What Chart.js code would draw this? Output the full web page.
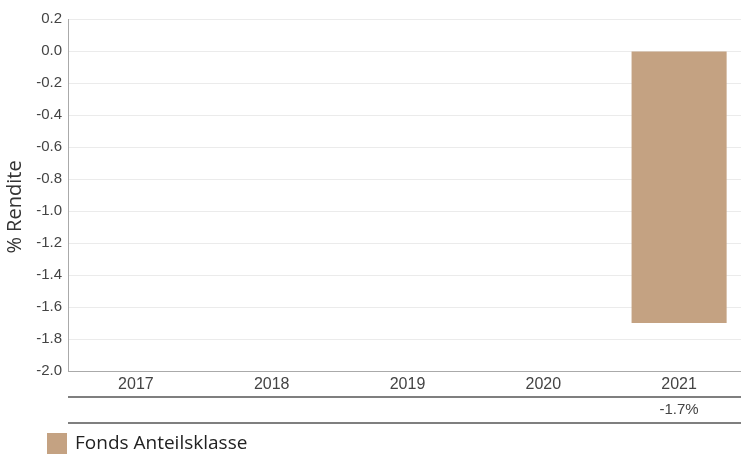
<!DOCTYPE html>
<html>
<head>
<meta charset="utf-8">
<script src="https://cdn.jsdelivr.net/npm/chart.js@4/dist/chart.umd.min.js"></script>
<style>
  html, body { margin: 0; padding: 0; background: #fff; overflow: hidden; }
  #wrap { width: 747px; height: 455px; position: relative; }
</style>
</head>
<body>
<div id="wrap"><canvas id="chart"></canvas></div>
<script>
// data
const years = ['2017', '2018', '2019', '2020', '2021'];
const fundLabel = 'Fonds Anteilsklasse';
const fundReturns = [null, null, null, null, -1.7];
const yMin = -2.0, yMax = 0.2, yStep = 0.2;
const yTitle = '% Rendite';

const fundColor = '#c4a282';
const arial = '"Liberation Sans", Arial, sans-serif';
const segoe = '"Open Sans", "Noto Sans", sans-serif';

// axis title, table row and legend drawn around the plot
const tableAndLegend = {
  id: 'tableAndLegend',
  afterDraw(chart) {
    const { ctx, chartArea, scales } = chart;
    const x = scales.x;
    const right = Math.min(chartArea.right, 741);
    ctx.save();
    // y title, sits a bit lower than the plot centre in the original
    ctx.save();
    ctx.translate(15, 207);
    ctx.rotate(-Math.PI / 2);
    ctx.fillStyle = '#333';
    ctx.font = '20px ' + segoe;
    ctx.textAlign = 'center';
    ctx.textBaseline = 'middle';
    ctx.fillText(yTitle, 0, 0);
    ctx.restore();

    ctx.strokeStyle = '#555';
    ctx.lineWidth = 1.5;
    [397, 423].forEach(y => {
      ctx.beginPath();
      ctx.moveTo(chartArea.left, y);
      ctx.lineTo(right, y);
      ctx.stroke();
    });
    ctx.fillStyle = '#444';
    ctx.font = '15px ' + arial;
    ctx.textAlign = 'center';
    ctx.textBaseline = 'middle';
    fundReturns.forEach((v, i) => {
      if (v === null) return;
      ctx.fillText(v.toFixed(1) + '%', x.getPixelForValue(i), 410);
    });
    // legend
    ctx.fillStyle = fundColor;
    ctx.fillRect(47, 433, 20, 21);
    ctx.fillStyle = '#222';
    ctx.font = '19px ' + segoe;
    ctx.textAlign = 'left';
    ctx.textBaseline = 'middle';
    ctx.fillText(fundLabel, 75, 444);
    ctx.restore();
  }
};

new Chart(document.getElementById('chart'), {
  type: 'bar',
  data: {
    labels: years,
    datasets: [{
      label: fundLabel,
      data: fundReturns,
      backgroundColor: fundColor,
      barPercentage: 0.7,
      categoryPercentage: 1.0
    }]
  },
  options: {
    responsive: true,
    maintainAspectRatio: false,
    animation: false,
    layout: { padding: { top: 19, right: 0, left: 0, bottom: 0 } },
    plugins: {
      legend: { display: false },
      tooltip: { enabled: false }
    },
    scales: {
      x: {
        grid: { display: false, drawTicks: false },
        border: { color: '#aaa' },
        ticks: { font: { family: arial, size: 16 }, color: '#444', padding: 4 },
        afterFit(scale) { scale.height = 84; }
      },
      y: {
        min: yMin,
        max: yMax,
        grid: { color: '#ebebeb', drawTicks: false },
        border: { color: '#aaa' },
        ticks: {
          stepSize: yStep,
          font: { family: arial, size: 15 },
          color: '#444',
          padding: 6,
          callback: v => v.toFixed(1)
        },
        afterFit(scale) { scale.width = 68; }
      }
    }
  },
  plugins: [tableAndLegend]
});
</script>
</body>
</html>
